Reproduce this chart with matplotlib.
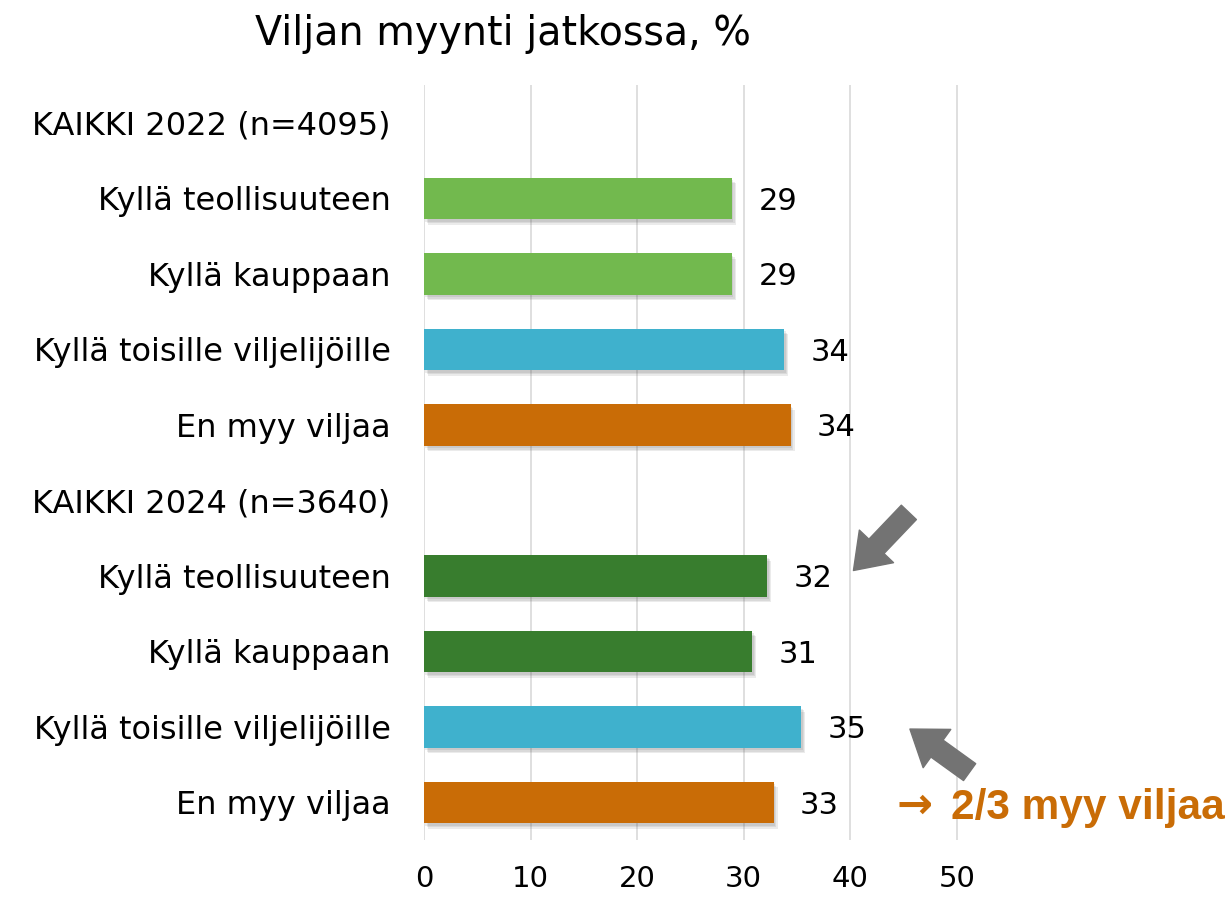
import numpy as np
import matplotlib
matplotlib.use("Agg")
import matplotlib.pyplot as plt
import matplotlib.patheffects as pe
from matplotlib.patches import FancyArrowPatch

# data
labels = ["KAIKKI 2022 (n=4095)", "Kyllä teollisuuteen", "Kyllä kauppaan",
          "Kyllä toisille viljelijöille", "En myy viljaa",
          "KAIKKI 2024 (n=3640)", "Kyllä teollisuuteen", "Kyllä kauppaan",
          "Kyllä toisille viljelijöille", "En myy viljaa"]
values = [np.nan, 28.9, 28.9, 33.8, 34.4, np.nan, 32.2, 30.8, 35.4, 32.8]
colors = ["none", "#72B94E", "#72B94E", "#3FB1CD", "#C96C06",
          "none", "#387D2E", "#387D2E", "#3FB1CD", "#C96C06"]
xticks = [0, 10, 20, 30, 40, 50]

fig = plt.figure(figsize=(12.3, 8.97), dpi=100)
ax = fig.add_axes([0.3447, 0.0635, 0.4358, 0.8417])

y = np.arange(len(labels))
vals = np.nan_to_num(values)
bars = ax.barh(y, vals, height=0.55, color=colors, zorder=3)
shadow = [pe.SimplePatchShadow(offset=(d, -d - 1), shadow_rgbFace="#444444", alpha=0.1)
          for d in (3, 2, 1)]
for b, v in zip(bars, values):
    if np.isnan(v):
        b.set_visible(False)
        continue
    b.set_path_effects(shadow + [pe.Normal()])
    ax.annotate(f"{v:.0f}", (v, b.get_y() + b.get_height() / 2), xytext=(19, -2),
                textcoords="offset points", ha="left", va="center", fontsize=22, color="black")

ax.set_xlim(0, 50.3)
ax.set_ylim(len(labels) - 0.5, -0.5)
ax.set_xticks(xticks)
ax.set_yticks(y)
ax.set_yticklabels(labels, fontsize=23)
ax.tick_params(axis="x", labelsize=21, length=0, pad=18)
ax.tick_params(axis="y", length=0, pad=24)
ax.grid(axis="x", color="#D9D9D9", linewidth=1.2, zorder=0)
for s in ax.spines.values():
    s.set_visible(False)

fig.text(0.409, 0.962, "Viljan myynti jatkossa, %", ha="center", va="center", fontsize=28.5)

# gray block arrows (rows 6 and 8 = 2024 teollisuuteen / toisille)
arrow_style = "simple,head_width=1.7,head_length=1.2,tail_width=0.75"
for tail, tip in [((45.5, 5.16), (40.3, 5.93)), ((51.2, 8.6), (45.6, 8.03))]:
    arr = FancyArrowPatch(tail, tip, arrowstyle=arrow_style, mutation_scale=20,
                          color="#737373", shrinkA=0, shrinkB=0, transform=ax.transData,
                          clip_on=False, zorder=5)
    ax.add_patch(arr)

ax.text(44.3, 9.05, "\u2192", ha="left", va="center", fontsize=31,
        fontweight="bold", color="#C96C06", clip_on=False)
ax.text(49.5, 9.08, "2/3 myy viljaa", ha="left", va="center", fontsize=30.5,
        fontweight="bold", color="#C96C06", family="Liberation Sans", clip_on=False)

fig.savefig("out.png", dpi=100)
